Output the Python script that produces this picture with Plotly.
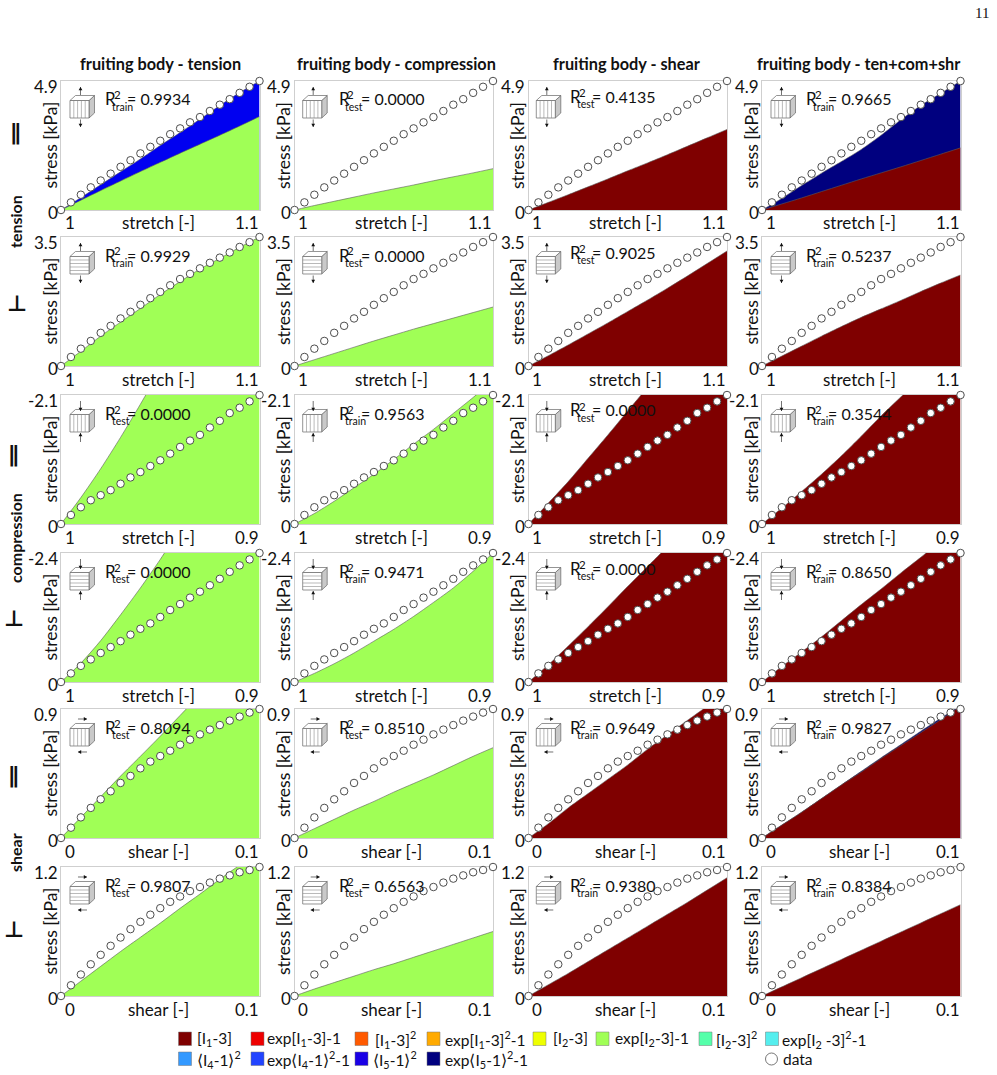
import plotly.graph_objects as go

# ---- strain grids (measurement points, 21 per test) ----
stretch_ten = [1.0, 1.005, 1.01, 1.015, 1.02, 1.025, 1.03, 1.035, 1.04, 1.045, 1.05,
               1.055, 1.06, 1.065, 1.07, 1.075, 1.08, 1.085, 1.09, 1.095, 1.1]
stretch_com = [1.0, 0.995, 0.99, 0.985, 0.98, 0.975, 0.97, 0.965, 0.96, 0.955, 0.95,
               0.945, 0.94, 0.935, 0.93, 0.925, 0.92, 0.915, 0.91, 0.905, 0.9]
shear_amt = [0.0, 0.005, 0.01, 0.015, 0.02, 0.025, 0.03, 0.035, 0.04, 0.045, 0.05,
             0.055, 0.06, 0.065, 0.07, 0.075, 0.08, 0.085, 0.09, 0.095, 0.1]

# ---- measured stress per loading row [kPa] ----
data_ten_par = [0, .29, .58, .86, 1.12, 1.38, 1.64, 1.89, 2.15, 2.40, 2.63, 2.88, 3.10, 3.33, 3.53, 3.76, 4.00, 4.21, 4.45, 4.68, 4.90]
data_ten_perp = [0, .245, .47, .68, .90, 1.09, 1.29, 1.47, 1.66, 1.84, 2.01, 2.19, 2.36, 2.50, 2.65, 2.80, 2.94, 3.08, 3.23, 3.36, 3.5]
data_com_par = [0, -.147, -.273, -.387, -.469, -.551, -.655, -.758, -.846, -.944, -1.037, -1.145, -1.255, -1.358, -1.451, -1.571, -1.68, -1.806, -1.893, -1.996, -2.1]
data_com_perp = [0, -.16, -.30, -.42, -.54, -.65, -.76, -.88, -.99, -1.09, -1.21, -1.34, -1.45, -1.57, -1.68, -1.80, -1.92, -2.05, -2.17, -2.28, -2.4]
data_shr_par = [0, .072, .144, .21, .27, .326, .384, .433, .486, .533, .572, .609, .651, .686, .723, .756, .788, .819, .847, .875, .9]
data_shr_perp = [0, .10, .20, .295, .383, .467, .544, .622, .69, .756, .817, .876, .926, .976, 1.014, 1.055, 1.092, 1.122, 1.151, 1.172, 1.2]

# ---- model stress at every second strain point, magnitudes [kPa] ----
m11_a = [0, .37, .74, 1.10, 1.46, 1.81, 2.16, 2.50, 2.84, 3.19, 3.55]
m11_b = [0, .47, .96, 1.45, 1.94, 2.45, 2.94, 3.45, 3.97, 4.46, 4.9]
m12_a = [0, .17, .33, .49, .65, .80, .95, 1.11, 1.26, 1.41, 1.57]
m13_a = [0, .29, .58, .88, 1.18, 1.49, 1.79, 2.10, 2.42, 2.74, 3.06]
m14_a = [0, .23, .46, .70, .94, 1.18, 1.41, 1.64, 1.88, 2.12, 2.36]
m14_b = [0, .44, .93, 1.40, 1.84, 2.30, 2.84, 3.43, 3.97, 4.43, 4.9]

m21_a = [0, .40, .81, 1.19, 1.56, 1.94, 2.29, 2.63, 2.92, 3.22, 3.5]
m22_a = [0, .17, .34, .51, .68, .84, 1.00, 1.15, 1.30, 1.45, 1.60]
m23_a = [0, .28, .57, .87, 1.17, 1.48, 1.79, 2.11, 2.44, 2.78, 3.12]
m24_a = [0, .27, .54, .81, 1.07, 1.32, 1.55, 1.78, 2.02, 2.25, 2.47]

m31_a = [0, -.43, -.90, -1.41, -1.95, -2.52, -3.15, -3.78, -4.41, -5.04, -5.67]
m32_a = [0, -.17, -.37, -.59, -.81, -1.05, -1.30, -1.54, -1.80, -2.06, -2.33]
m33_a = [0, -.34, -.69, -1.07, -1.45, -1.84, -2.23, -2.63, -3.02, -3.42, -3.84]
m34_a = [0, -.26, -.53, -.81, -1.11, -1.43, -1.76, -2.07, -2.37, -2.69, -3.0]

m41_a = [0, -.35, -.77, -1.25, -1.75, -2.28, -2.86, -3.46, -4.08, -4.73, -5.4]
m42_a = [0, -.16, -.34, -.54, -.76, -.98, -1.22, -1.48, -1.75, -2.06, -2.4]
m43_a = [0, -.32, -.67, -1.03, -1.40, -1.78, -2.15, -2.52, -2.90, -3.29, -3.67]
m44_a = [0, -.29, -.56, -.84, -1.14, -1.44, -1.73, -2.03, -2.32, -2.62, -2.90]

m51_a = [0, .144, .288, .432, .57, .71, .855, 1.0, 1.14, 1.29, 1.43]
m52_a = [0, .065, .13, .195, .255, .32, .38, .44, .505, .57, .63]
m53_a = [0, .10, .21, .31, .41, .51, .62, .72, .82, .92, 1.03]
m54_a = [0, .09, .18, .275, .37, .46, .555, .645, .735, .825, .92]
m54_b = [0, .09, .18, .275, .37, .465, .56, .652, .745, .835, .925]

m61_a = [0, .138, .276, .414, .546, .678, .816, .948, 1.086, 1.218, 1.356]
m62_a = [0, .065, .125, .185, .245, .30, .36, .42, .48, .54, .60]
m63_a = [0, .105, .21, .32, .43, .54, .65, .76, .87, .985, 1.10]
m64_a = [0, .085, .17, .255, .34, .425, .51, .595, .68, .765, .85]

# ---- labels ----
col_titles = ["fruiting body - tension", "fruiting body - compression",
              "fruiting body - shear", "fruiting body - ten+com+shr"]
r2_kind = [["train", "test", "test", "train"],
           ["train", "test", "test", "train"],
           ["test", "train", "test", "train"],
           ["test", "train", "test", "train"],
           ["test", "test", "train", "train"],
           ["test", "test", "train", "train"]]
r2_vals = [["0.9934", "0.0000", "0.4135", "0.9665"],
           ["0.9929", "0.0000", "0.9025", "0.5237"],
           ["0.0000", "0.9563", "0.0000", "0.3544"],
           ["0.0000", "0.9471", "0.0000", "0.8650"],
           ["0.8094", "0.8510", "0.9649", "0.9827"],
           ["0.9807", "0.6563", "0.9380", "0.8384"]]
y_tops = [4.9, 3.5, -2.1, -2.4, 0.9, 1.2]
y_top_text = ["4.9", "3.5", "-2.1", "-2.4", "0.9", "1.2"]

GREEN = "#a0ff56"
MAROON = "#7f0000"
BLUE = "#0000f0"
NAVY = "#00007f"

legend_row1 = ["[I<sub>1</sub>-3]", "exp[I<sub>1</sub>-3]-1", "[I<sub>1</sub>-3]<sup>2</sup>",
               "exp[I<sub>1</sub>-3]<sup>2</sup>-1", "[I<sub>2</sub>-3]", "exp[I<sub>2</sub>-3]-1",
               "[I<sub>2</sub>-3]<sup>2</sup>", "exp[I<sub>2</sub> -3]<sup>2</sup>-1"]
legend_row1_colors = ["#7f0000", "#ee0000", "#ff5a00", "#ffaa00", "#eeff00", GREEN, "#55ffaa", "#55eeee"]
legend_row2 = ["⟨I<sub>4</sub>-1⟩<sup>2</sup>", "exp⟨I<sub>4</sub>-1⟩<sup>2</sup>-1",
               "⟨I<sub>5</sub>-1⟩<sup>2</sup>", "exp⟨I<sub>5</sub>-1⟩<sup>2</sup>-1"]
legend_row2_colors = ["#3399ff", "#2244ff", "#1a00e6", NAVY]
legend_x1 = [178.5, 251, 355, 427, 533, 596, 699, 765.5]
legend_text_x1 = [197, 267, 374.5, 444.5, 553, 614.5, 716, 782]
legend_x2 = [178.5, 251, 355, 427]
legend_text_x2 = [197, 267, 372.5, 444.5]

# ---- page geometry in pixels ----
W, H = 997, 1075
PANEL_W, PANEL_H = 198.5, 129
LEFTS = [61, 294.5, 528.5, 762]
TOPS = [81, 237, 395, 553, 709, 867]
TITLE_CENTER = [99, 101.5, 98.5, 97]
CUBE_DX = [0, -0.8, -1.2, 0]
FONT = "Lato"

fig = go.Figure()
annotations = []
shapes = []


def px(x):
    return x / W


def py(y):
    return 1 - y / H


def label(x, y, text, size=17, angle=0, bold=False, xanchor="center", family=FONT, color="#111111"):
    annotations.append(dict(
        x=px(x), y=py(y), xref="paper", yref="paper", text=f"<b>{text}</b>" if bold else text,
        showarrow=False, xanchor=xanchor, yanchor="middle", textangle=angle,
        font=dict(family=family, size=size, color=color), borderpad=0, borderwidth=0))


def poly(points):
    return "M" + " L".join(f"{px(a):.5f},{py(b):.5f}" for a, b in points) + " Z"


def seg(a, b):
    return f"M{px(a[0]):.5f},{py(a[1]):.5f} L{px(b[0]):.5f},{py(b[1]):.5f}"


def add_arrow(parts, heads, tail, tip):
    # thin stem plus a small solid head
    parts.append(seg(tail, tip))
    dx, dy = tip[0] - tail[0], tip[1] - tail[1]
    n = (dx * dx + dy * dy) ** 0.5
    ux, uy = dx / n, dy / n
    heads.append(poly([tip, (tip[0] - 3.2 * ux - 1.9 * uy, tip[1] - 3.2 * uy + 1.9 * ux),
                       (tip[0] - 3.2 * ux + 1.9 * uy, tip[1] - 3.2 * uy - 1.9 * ux)]))


def add_cube(left, top, mode, fibre):
    # small specimen sketch: loading arrows and fibre direction
    x0, x1 = left + 9, left + 28
    y0, y1 = top + 19.5, top + 37
    ox, oy = 5.5, -5
    edge = dict(color="#666666", width=0.7)
    shapes.append(dict(type="path", xref="paper", yref="paper", line=edge, fillcolor="#c9c9c9",
                       path=poly([(x1, y0), (x1 + ox, y0 + oy), (x1 + ox, y1 + oy), (x1, y1)])))
    shapes.append(dict(type="path", xref="paper", yref="paper", line=edge, fillcolor="#ffffff",
                       path=poly([(x0, y0), (x0 + ox, y0 + oy), (x1 + ox, y0 + oy), (x1, y0)])))
    shapes.append(dict(type="path", xref="paper", yref="paper", line=edge, fillcolor="#ffffff",
                       path=poly([(x0, y0), (x1, y0), (x1, y1), (x0, y1)])))
    stripes, arrows, heads = [], [], []
    for k in (1, 2, 3, 4):
        if fibre == "par":
            xk = x0 + k * (x1 - x0) / 5
            stripes.append(seg((xk, y0), (xk, y1)))
        else:
            yk = y0 + k * (y1 - y0) / 5
            stripes.append(seg((x0, yk), (x1, yk)))
    cx = left + 19.5
    if mode == "ten":
        add_arrow(arrows, heads, (cx, top + 14), (cx, top + 6))
        add_arrow(arrows, heads, (cx, top + 38.5), (cx, top + 46))
    elif mode == "com":
        add_arrow(arrows, heads, (cx, top + 6), (cx, top + 16))
        add_arrow(arrows, heads, (cx, top + 47), (cx, top + 38))
    else:
        add_arrow(arrows, heads, (left + 17, top + 10), (left + 26, top + 10))
        add_arrow(arrows, heads, (left + 26, top + 43), (left + 17, top + 43))
    shapes.append(dict(type="path", xref="paper", yref="paper",
                       line=dict(color="#8a8a8a", width=0.6), path=" ".join(stripes)))
    shapes.append(dict(type="path", xref="paper", yref="paper",
                       line=dict(color="#333333", width=0.7), path=" ".join(arrows)))
    shapes.append(dict(type="path", xref="paper", yref="paper", line=dict(width=0),
                       fillcolor="#111111", path=" ".join(heads)))


# model layers in each panel, outermost layer first so the inner one paints over it
panel_models = [
    [[(m11_b, BLUE), (m11_a, GREEN)], [(m12_a, GREEN)], [(m13_a, MAROON)], [(m14_b, NAVY), (m14_a, MAROON)]],
    [[(m21_a, GREEN)], [(m22_a, GREEN)], [(m23_a, MAROON)], [(m24_a, MAROON)]],
    [[(m31_a, GREEN)], [(m32_a, GREEN)], [(m33_a, MAROON)], [(m34_a, MAROON)]],
    [[(m41_a, GREEN)], [(m42_a, GREEN)], [(m43_a, MAROON)], [(m44_a, MAROON)]],
    [[(m51_a, GREEN)], [(m52_a, GREEN)], [(m53_a, MAROON)], [(m54_b, NAVY), (m54_a, MAROON)]],
    [[(m61_a, GREEN)], [(m62_a, GREEN)], [(m63_a, MAROON)], [(m64_a, MAROON)]],
]
row_data = [data_ten_par, data_ten_perp, data_com_par, data_com_perp, data_shr_par, data_shr_perp]
row_x = [stretch_ten, stretch_ten, stretch_com, stretch_com, shear_amt, shear_amt]
row_xtext = [("1", "1.1"), ("1", "1.1"), ("1", "0.9"), ("1", "0.9"), ("0", "0.1"), ("0", "0.1")]
row_xtitle = ["stretch [-]"] * 4 + ["shear [-]"] * 2
row_mode = ["ten", "ten", "com", "com", "shr", "shr"]
row_fibre = ["par", "perp", "par", "perp", "par", "perp"]

axis_no = 0
layout_axes = {}
for r, top in enumerate(TOPS):
    xs = row_x[r]
    for c, left in enumerate(LEFTS):
        axis_no += 1
        xa, ya = f"x{axis_no}", f"y{axis_no}"
        frame = dict(showgrid=False, zeroline=False, showline=True, mirror=True, linecolor="#cfcfcf",
                     linewidth=1, ticks="", showticklabels=False, layer="below traces")
        layout_axes[f"xaxis{axis_no}"] = dict(frame, domain=[px(left), px(left + PANEL_W)],
                                              range=[xs[0], xs[-1]], anchor=ya)
        layout_axes[f"yaxis{axis_no}"] = dict(frame, domain=[py(top + PANEL_H), py(top)],
                                              range=[0, y_tops[r]], anchor=xa)
        for values, color in panel_models[r][c]:
            fig.add_trace(go.Scatter(x=xs[::2], y=values, xaxis=xa, yaxis=ya, mode="lines",
                                     fill="tozeroy", fillcolor=color,
                                     line=dict(color="#5a5a5a", width=0.6, shape="spline", smoothing=0.7),
                                     showlegend=False))
        fig.add_trace(go.Scatter(x=xs, y=row_data[r], xaxis=xa, yaxis=ya, mode="markers", cliponaxis=False,
                                 marker=dict(size=7.5, color="#ffffff", line=dict(color="#4d4d4d", width=1)),
                                 showlegend=False))

        # axis texts sit slightly inside the panel ends
        label(left - 3.5, top + 5.7, y_top_text[r], xanchor="right")
        label(left - 3.5, top + PANEL_H + 2, "0", xanchor="right")
        label(left - 11, top + PANEL_H / 2, "stress [kPa]", size=17.5, angle=-90)
        label(left + 8.5, top + PANEL_H + 13, row_xtext[r][0])
        label(left + 185.5, top + PANEL_H + 13, row_xtext[r][1])
        label(left + 97, top + PANEL_H + 13, row_xtitle[r])

        # R² readout: base letter, stacked exponent and set name, then the value
        rx = left + (41.5 if c == 2 else 44)
        ry = top + (15 if (c == 2 and r < 4) else 18)
        label(rx, ry, "R", size=17, xanchor="left")
        label(rx + 8.5, ry - 4, "2", size=11.5, xanchor="left")
        label(rx + 6.7, ry + 8, r2_kind[r][c], size=10.5, xanchor="left")
        label(rx + 22, ry, "= " + r2_vals[r][c], size=16, xanchor="left")

        add_cube(left + CUBE_DX[c], top, row_mode[r], row_fibre[r])

# column heads
for left, dx, title in zip(LEFTS, TITLE_CENTER, col_titles):
    label(left + dx, 64, title, size=16.3, bold=True)

# row labels
label(15, 222, "tension", size=16, angle=-90, bold=True)
label(15, 538, "compression", size=16, angle=-90, bold=True)
label(15, 853, "shear", size=16, angle=-90, bold=True)
for (gx, gy), glyph in zip([(15.5, 132), (16.5, 304), (13, 455), (14, 618), (13, 775), (14, 929)],
                           ["∥", "⊥", "∥", "⊥", "∥", "⊥"]):
    label(gx, gy, glyph, size=22, bold=True, family="DejaVu Sans")

# page number
label(982, 13, "11", size=15, family="Liberation Serif")

# legend entries
for row_y, xs_leg, xs_txt, texts, colors in [(1039, legend_x1, legend_text_x1, legend_row1, legend_row1_colors),
                                             (1059, legend_x2, legend_text_x2, legend_row2, legend_row2_colors)]:
    for xl, xt, text, color in zip(xs_leg, xs_txt, texts, colors):
        shapes.append(dict(type="rect", xref="paper", yref="paper", x0=px(xl), x1=px(xl + 13),
                           y0=py(row_y - 7), y1=py(row_y + 6.5), fillcolor=color,
                           line=dict(color="#777777", width=0.5)))
        label(xt, row_y, text, size=15.5, xanchor="left")
shapes.append(dict(type="circle", xref="paper", yref="paper", x0=px(765.5), x1=px(777.5),
                   y0=py(1065), y1=py(1053), fillcolor="#ffffff", line=dict(color="#555555", width=0.8)))
label(783, 1059, "data", size=15.5, xanchor="left")

fig.update_layout(width=W, height=H, margin=dict(l=0, r=0, t=0, b=0, pad=0), autosize=False,
                  paper_bgcolor="#ffffff", plot_bgcolor="#ffffff", showlegend=False,
                  annotations=annotations, shapes=shapes, **layout_axes)

fig.write_html("out.html", config=dict(displayModeBar=False))
